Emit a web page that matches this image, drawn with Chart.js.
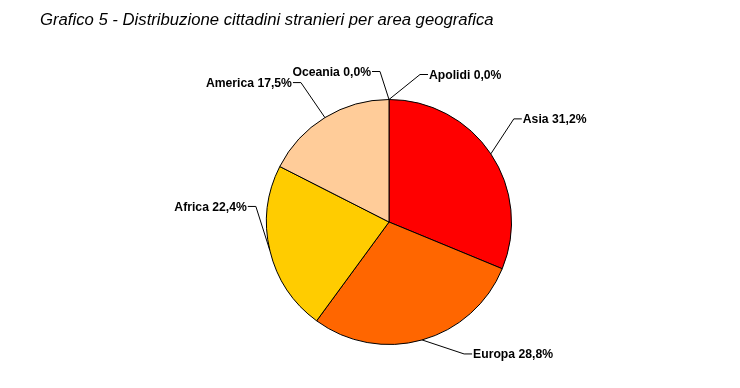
<!DOCTYPE html>
<html>
<head>
<meta charset="utf-8">
<script src="https://cdn.jsdelivr.net/npm/chart.js@4.4.1/dist/chart.umd.min.js"></script>
<style>
  html, body { margin: 0; padding: 0; background: #fff; }
  #wrap { position: relative; width: 740px; height: 388px; }
  #titolo {
    position: absolute; left: 40px; top: 10px;
    font: italic 16.7px "Liberation Sans", Arial, sans-serif; color: #000;
  }
</style>
</head>
<body>
<div id="wrap">
  <div id="titolo">Grafico 5 - Distribuzione cittadini stranieri per area geografica</div>
  <canvas id="torta" width="740" height="388"></canvas>
</div>
<script>
const aree = ['Asia', 'Europa', 'Africa', 'America', 'Oceania', 'Apolidi'];
const percentuali = [31.2, 28.8, 22.4, 17.5, 0.0, 0.0];
const colori = ['#FF0000', '#FF6600', '#FFCC00', '#FFCC99', '#FFFFCC', '#CCCCCC'];
// gomito della linea guida rispetto al bordo della fetta
const gomiti = [[23, -35], [42, 14], [-14, -44], [-24, -35], [-9, -28], [31, -25]];

const etichette = {
  id: 'etichette',
  afterDatasetsDraw(chart) {
    const c = chart.ctx;
    const meta = chart.getDatasetMeta(0);
    c.save();
    c.font = 'bold 12.2px "Liberation Sans", Arial, sans-serif';
    c.textBaseline = 'middle';
    c.strokeStyle = '#000';
    c.lineWidth = 1;
    c.fillStyle = '#000';
    meta.data.forEach(function(arc, i) {
      const p = arc.getProps(['x', 'y', 'startAngle', 'endAngle', 'outerRadius'], true);
      const a = (p.startAngle + p.endAngle) / 2;
      const x0 = p.x + Math.cos(a) * p.outerRadius;
      const y0 = p.y + Math.sin(a) * p.outerRadius;
      const x1 = x0 + gomiti[i][0];
      const y1 = y0 + gomiti[i][1];
      const dx = gomiti[i][0] >= 0 ? 8 : -8;
      c.beginPath();
      c.moveTo(x0, y0);
      c.lineTo(x1, y1);
      c.lineTo(x1 + dx, y1);
      c.stroke();
      const txt = aree[i] + ' ' + percentuali[i].toFixed(1).replace('.', ',') + '%';
      c.textAlign = dx > 0 ? 'left' : 'right';
      c.fillText(txt, x1 + dx + (dx > 0 ? 1 : -1), y1 + 1);
    });
    c.restore();
  }
};

new Chart(document.getElementById('torta'), {
  type: 'pie',
  data: {
    labels: aree,
    datasets: [{
      data: percentuali,
      backgroundColor: colori,
      borderColor: '#000',
      borderWidth: 1
    }]
  },
  options: {
    responsive: false,
    animation: false,
    layout: { padding: { top: 99, bottom: 43, left: 200, right: 162 } },
    plugins: {
      legend: { display: false },
      tooltip: { enabled: false }
    }
  },
  plugins: [etichette]
});
</script>
</body>
</html>
